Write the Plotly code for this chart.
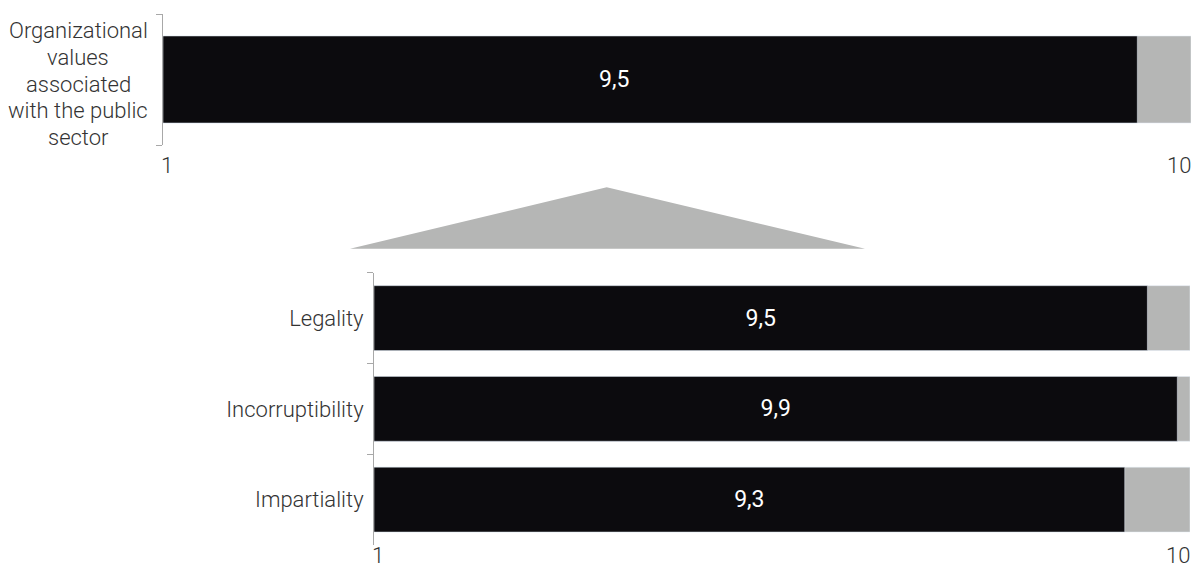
import plotly.graph_objects as go

# ---- data ----
overall_label = ["Organizational", "values", "associated", "with the public", "sector"]
overall_value = [9.53]
detail_categories = ["Legality", "Incorruptibility", "Impartiality"]
detail_values = [9.53, 9.86, 9.28]
scale_min, scale_max = 1, 10
tick_labels = ["1", "10"]

W, H = 1192, 569
FONT = "Roboto, Liberation Sans, Arial, sans-serif"
TXT = "#333333"
BLACK = "#0c0b0e"
GREY = "#b5b6b5"
AX = "#a8a8a8"
FS = 22
WEIGHT = 300

def px_x(p):
    return p / W

def px_y(p):
    return 1 - p / H

fig = go.Figure()

# top panel (bars start at the scale minimum)
fig.add_trace(go.Bar(y=["overall"], x=[scale_max - scale_min], base=scale_min, orientation="h",
                     marker_color=GREY, width=0.664, xaxis="x", yaxis="y",
                     hoverinfo="skip", showlegend=False))
fig.add_trace(go.Bar(y=["overall"], x=[v - scale_min for v in overall_value], base=scale_min,
                     orientation="h", marker_color=BLACK, width=0.664, xaxis="x", yaxis="y",
                     customdata=overall_value, hovertemplate="%{customdata:.1f}<extra></extra>",
                     showlegend=False))

# bottom panel
fig.add_trace(go.Bar(y=detail_categories, x=[scale_max - scale_min] * len(detail_categories),
                     base=scale_min, orientation="h", marker_color=GREY, width=0.714,
                     xaxis="x2", yaxis="y2", hoverinfo="skip", showlegend=False))
fig.add_trace(go.Bar(y=detail_categories, x=[v - scale_min for v in detail_values], base=scale_min,
                     orientation="h", marker_color=BLACK, width=0.714, xaxis="x2", yaxis="y2",
                     showlegend=False, customdata=detail_values,
                     hovertemplate="%{y}: %{customdata:.1f}<extra></extra>",
                     texttemplate="%{customdata:.1f}", textposition="inside",
                     insidetextanchor="middle",
                     textfont=dict(color="white", size=23, family=FONT, weight=400)))

axis_common = dict(showgrid=False, zeroline=False)
fig.update_layout(
    width=W, height=H, margin=dict(l=0, r=0, t=0, b=0),
    paper_bgcolor="white", plot_bgcolor="white",
    barmode="overlay", separators=",.",
    font=dict(family=FONT, color=TXT, size=FS, weight=WEIGHT),
    xaxis=dict(domain=[px_x(163), px_x(1191)], range=[scale_min, scale_max],
               showticklabels=False, ticks="", showline=False, anchor="y", **axis_common),
    yaxis=dict(domain=[px_y(145), px_y(14)], range=[-0.5, 0.5], anchor="x",
               showticklabels=False, showline=True, linecolor=AX, linewidth=1,
               ticks="outside", tickson="boundaries", ticklen=6, tickcolor=AX, **axis_common),
    xaxis2=dict(domain=[px_x(374), px_x(1190)], range=[scale_min, scale_max],
                showticklabels=False, ticks="", showline=False, anchor="y2", **axis_common),
    yaxis2=dict(domain=[px_y(545), px_y(272.7)], autorange="reversed", anchor="x2",
                showline=True, linecolor=AX, linewidth=1, ticks="outside",
                tickson="boundaries", ticklen=6, tickcolor=AX, ticklabelstandoff=5,
                tickfont=dict(size=FS, color=TXT, family=FONT, weight=WEIGHT), **axis_common),
)

lab_font = dict(size=FS, color=TXT, family=FONT, weight=WEIGHT)
annotations = []
# top category label, one annotation per line (centered)
for i, line in enumerate(overall_label):
    annotations.append(dict(text=line, xref="paper", yref="paper", x=px_x(78),
                            y=px_y(84 + (i - 2) * 26.9), xanchor="center", yanchor="middle",
                            showarrow=False, font=lab_font))
# top bar value label
annotations.append(dict(text=f"{overall_value[0]:.1f}".replace(".", ","), xref="x", yref="y",
                        x=4.95, y=0, xanchor="center", yanchor="middle", showarrow=False,
                        font=dict(size=23, color="white", family=FONT, weight=400)))
# scale end labels
for xr, ypx, yanc in (("x", 165, "middle"), ("x2", 569, "bottom")):
    annotations.append(dict(text=tick_labels[0], xref=xr, yref="paper", x=scale_min, y=px_y(ypx),
                            xanchor="left", yanchor=yanc, xshift=-3, showarrow=False,
                            borderpad=0, font=lab_font))
    annotations.append(dict(text=tick_labels[1], xref=xr, yref="paper", x=scale_max, y=px_y(ypx),
                            xanchor="right", yanchor=yanc, xshift=1, showarrow=False,
                            borderpad=0, font=lab_font))
fig.update_layout(annotations=annotations)

# zoom triangle
apex = (606.7, 187.3)
left = (350, 248.7)
right = (865, 248.7)
path = "M {} {} L {} {} L {} {} Z".format(px_x(left[0]), px_y(left[1]), px_x(apex[0]), px_y(apex[1]),
                                          px_x(right[0]), px_y(right[1]))
fig.add_shape(type="path", xref="paper", yref="paper", path=path, fillcolor=GREY,
              line=dict(width=0), layer="below")

fig.write_html("out.html", config={"displayModeBar": False},
               post_script="document.body.style.margin='0';document.body.style.overflow='hidden';")
